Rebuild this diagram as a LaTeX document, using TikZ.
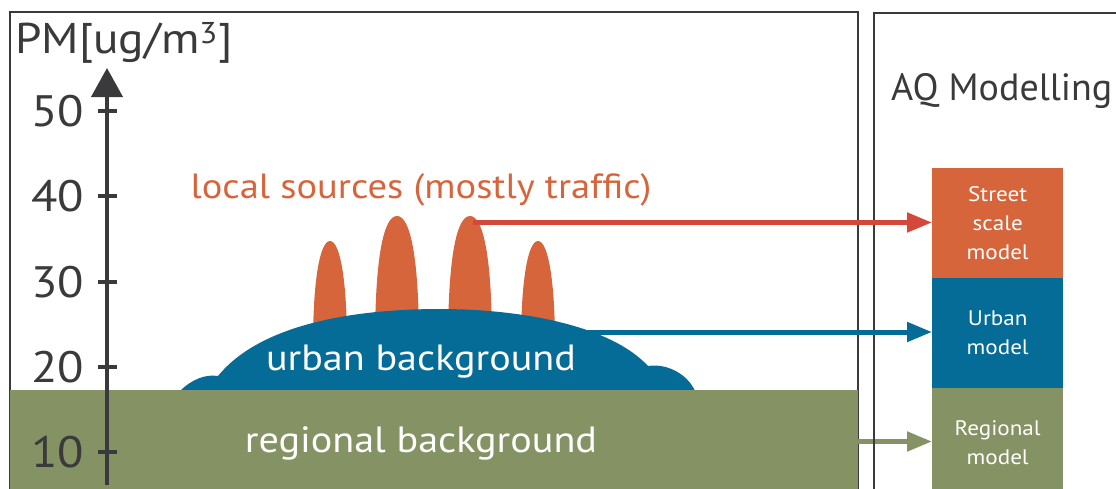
\documentclass[tikz,border=0pt]{standalone}
\usepackage{fontspec}
\setmainfont{PT Sans}[FakeStretch=1.1]
\newfontfamily\plainsans{PT Sans}
\usetikzlibrary{arrows.meta}
\definecolor{framec}{HTML}{3A393B}
\definecolor{greenc}{HTML}{849264}
\definecolor{bluec}{HTML}{046C97}
\definecolor{orangec}{HTML}{D6653C}
\definecolor{redc}{HTML}{D4483C}
\tikzset{
  panel/.style={draw=framec, line width=2.2pt},
  spike/.style={fill=orangec},
  ticklabel/.style={anchor=east, inner sep=0pt, text=framec, font=\fontsize{44}{50}\selectfont},
  tickmark/.style={draw=framec, line width=4pt},
  modelbox/.style={minimum width=131pt, minimum height=109.5pt, inner sep=0pt, text=white, align=center,
    font=\fontsize{21}{29}\selectfont},
  feed/.style={line width=5pt, -{Triangle[length=25pt,width=19pt]}},
  bigwhite/.style={text=white, inner sep=0pt, font=\fontsize{36.5}{40}\selectfont}
}
\begin{document}
\begin{tikzpicture}[x=1pt,y=-1pt]
\useasboundingbox (0,0) rectangle (1116,488);
\clip (0,0) rectangle (1116,488);

% panels
\draw[panel] (10,510) -- (10,12) -- (858,12) -- (858,510);
\draw[panel] (874,510) -- (874,13) -- (1130,13);

% spikes
\foreach \cx/\w/\t [count=\i] in {330/34/241, 397/44/216, 470/44/216, 538/34/241}{
  \fill[spike] (\cx-\w/2,345) .. controls (\cx-\w/2,\t+40) and (\cx-0.3*\w,\t) .. (\cx,\t)
     .. controls (\cx+0.3*\w,\t) and (\cx+\w/2,\t+40) .. (\cx+\w/2,345) -- cycle;
}

% urban dome
\fill[bluec] (180,391) .. controls (192,379) and (206,374) .. (218,376)
  .. controls (262,322) and (360,309) .. (440,309)
  .. controls (520,309) and (610,325) .. (648,366)
  .. controls (668,363) and (688,375) .. (695,391) -- cycle;

% regional band
\fill[greenc] (10,390) rectangle (858,500);

% texts
\node[anchor=base, inner sep=0pt, text=orangec, font=\fontsize{35}{40}\selectfont] (localtxt) at (421,198) {local sources (mostly traffic)};
\node[bigwhite, anchor=base] (urbantxt) at (421,370) {urban background};
\node[bigwhite, anchor=base] (regtxt) at (421,452) {regional background};
\node[anchor=base west, inner sep=0pt, text=framec, font=\fontsize{43}{50}\selectfont] (ylabel) at (15,53) {PM[ug/m\textsuperscript{3}]};
\node[anchor=base west, inner sep=0pt, text=framec, font=\plainsans\fontsize{38}{44}\selectfont] (aqtxt) at (891,100) {AQ Modelling};

% axis
\coordinate (axbot) at (107,485);
\coordinate (axtop) at (107,68);
\draw[framec, line width=4pt, -{Triangle[length=29pt,width=31pt]}] (axbot) -- (axtop);
\foreach \v/\yy in {50/111, 40/196, 30/282, 20/367, 10/452}{
  \draw[tickmark] (98,\yy) -- (117,\yy);
  \node[ticklabel] (lab\v) at (84,\yy) {\v};
}

% model boxes
\node[modelbox, fill=orangec, anchor=north west] (street) at (932,168) {Street\\scale\\model};
\node[modelbox, fill=bluec, anchor=north] (urban) at (street.south) {Urban\\model};
\node[modelbox, fill=greenc, anchor=north] (regional) at (urban.south) {Regional\\model};

% feeds
\coordinate (srcA) at (473,222.5);
\coordinate (srcB) at (560,332);
\coordinate (srcC) at (857,441.5);
\draw[feed, redc] (srcA) -- (srcA -| street.west);
\draw[feed, bluec] (srcB) -- (srcB -| urban.west);
\draw[feed, greenc] (srcC) -- (srcC -| regional.west);
\draw[panel] (874,400) -- (874,480);
\end{tikzpicture}
\end{document}
